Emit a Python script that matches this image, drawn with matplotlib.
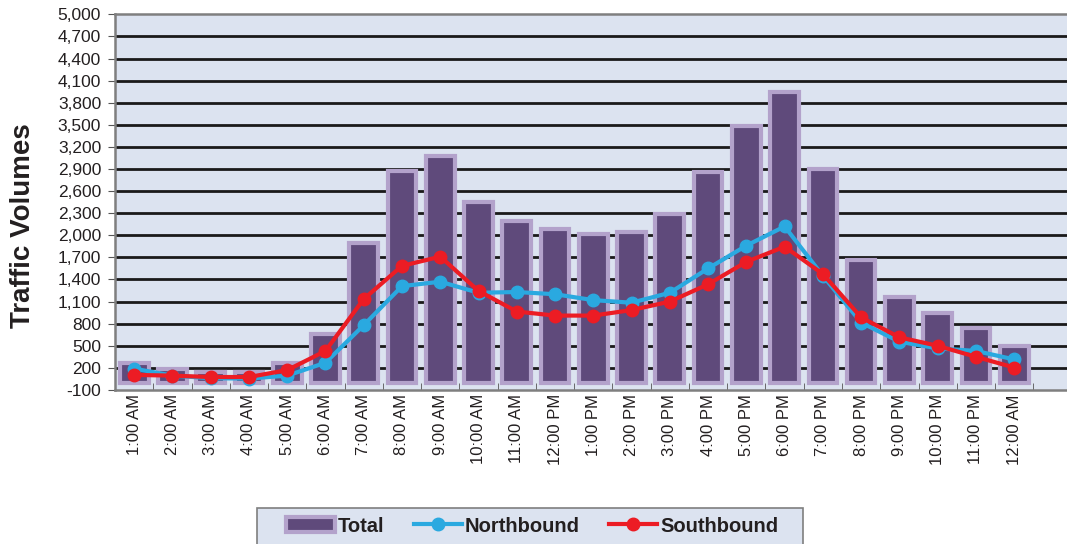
import numpy as np
import matplotlib.pyplot as plt
from matplotlib.patches import Patch, Rectangle
from matplotlib.lines import Line2D
from matplotlib.ticker import FuncFormatter

plt.rcParams['font.family'] = ['Liberation Sans', 'DejaVu Sans']

hours = ['1:00 AM', '2:00 AM', '3:00 AM', '4:00 AM', '5:00 AM', '6:00 AM',
         '7:00 AM', '8:00 AM', '9:00 AM', '10:00 AM', '11:00 AM', '12:00 PM',
         '1:00 PM', '2:00 PM', '3:00 PM', '4:00 PM', '5:00 PM', '6:00 PM',
         '7:00 PM', '8:00 PM', '9:00 PM', '10:00 PM', '11:00 PM', '12:00 AM']
total = [270, 180, 150, 150, 260, 660, 1890, 2870, 3070, 2450, 2190, 2090,
         2020, 2045, 2290, 2860, 3480, 3940, 2900, 1670, 1160, 940, 740, 500]
northbound = [190, 95, 60, 55, 95, 270, 780, 1310, 1370, 1220, 1230, 1200,
              1120, 1085, 1220, 1550, 1860, 2120, 1450, 815, 555, 465, 430, 315]
southbound = [105, 95, 76, 76, 170, 430, 1135, 1585, 1710, 1245, 965, 910,
              910, 985, 1100, 1335, 1640, 1845, 1475, 885, 615, 500, 350, 205]

bg = '#dce3f0'
bar_fill = '#5f4a7b'
bar_edge = '#b3a2cb'
blue = '#2aa9e0'
red = '#ec1c24'
ink = '#231f20'

W, H = 1067, 544
fig = plt.figure(figsize=(W / 100, H / 100), dpi=100)
ax = fig.add_axes([0.1078, 0.2831, 0.8922, 0.6906])
ax.set_facecolor(bg)

x = np.arange(len(hours))
ax.set_ylim(-100, 5000)
ax.set_xlim(-0.5, 24.38)

yt = np.arange(-100, 5001, 300)
ax.set_yticks(yt)
ax.yaxis.set_major_formatter(FuncFormatter(lambda v, p: f'{int(v):,}'))
for v in yt[1:-1]:
    ax.axhline(v, color='#1a1a1a', lw=2.0, zorder=1)

ax.bar(x, total, width=0.75, bottom=0, color=bar_fill, edgecolor=bar_edge,
       linewidth=3, zorder=2)
ax.plot(x, northbound, color=blue, lw=3, marker='o', ms=9, zorder=3)
ax.plot(x, southbound, color=red, lw=3, marker='o', ms=9, zorder=4)

ax.set_xticks(x)
ax.set_xticklabels(hours, rotation=90, fontsize=12, color=ink)
ax.set_xticks(np.arange(-0.5, 24, 1), minor=True)
ax.tick_params(axis='x', which='major', length=0, pad=3)
ax.tick_params(axis='x', which='minor', direction='in', length=5, color='#555555')
ax.tick_params(axis='y', direction='out', length=5, color='#555555',
               labelsize=12.5, labelcolor=ink, pad=5)

for side in ['top', 'left', 'bottom']:
    ax.spines[side].set_color('#7f7f7f')
    ax.spines[side].set_linewidth(1.8)
ax.spines['right'].set_visible(False)

ax.set_ylabel('Traffic Volumes', fontsize=20, fontweight='bold', color=ink)
ax.yaxis.label.set_va('center')
ax.yaxis.set_label_coords(-0.0966, 0.4365)

# legend box runs off the bottom edge of the figure
fig.patches.append(Rectangle((257 / W, -0.02), 546 / W, 36 / H + 0.02,
                             transform=fig.transFigure, facecolor=bg,
                             edgecolor='#7f7f7f', linewidth=1.2))

handles = [
    Patch(facecolor=bar_fill, edgecolor=bar_edge, linewidth=3),
    Line2D([], [], color=blue, lw=3, marker='o', ms=9),
    Line2D([], [], color=red, lw=3, marker='o', ms=9),
]
leg = fig.legend(handles, ['Total', 'Northbound', 'Southbound'], ncol=3,
                 loc='center', bbox_to_anchor=(532.5 / W, 1 - 526 / H),
                 frameon=False, prop={'weight': 'bold', 'size': 14.5},
                 handlelength=2.4, handletextpad=0.15, columnspacing=1.45,
                 borderpad=0.0)
for t in leg.get_texts():
    t.set_color(ink)

fig.savefig('out.png', dpi=100)
